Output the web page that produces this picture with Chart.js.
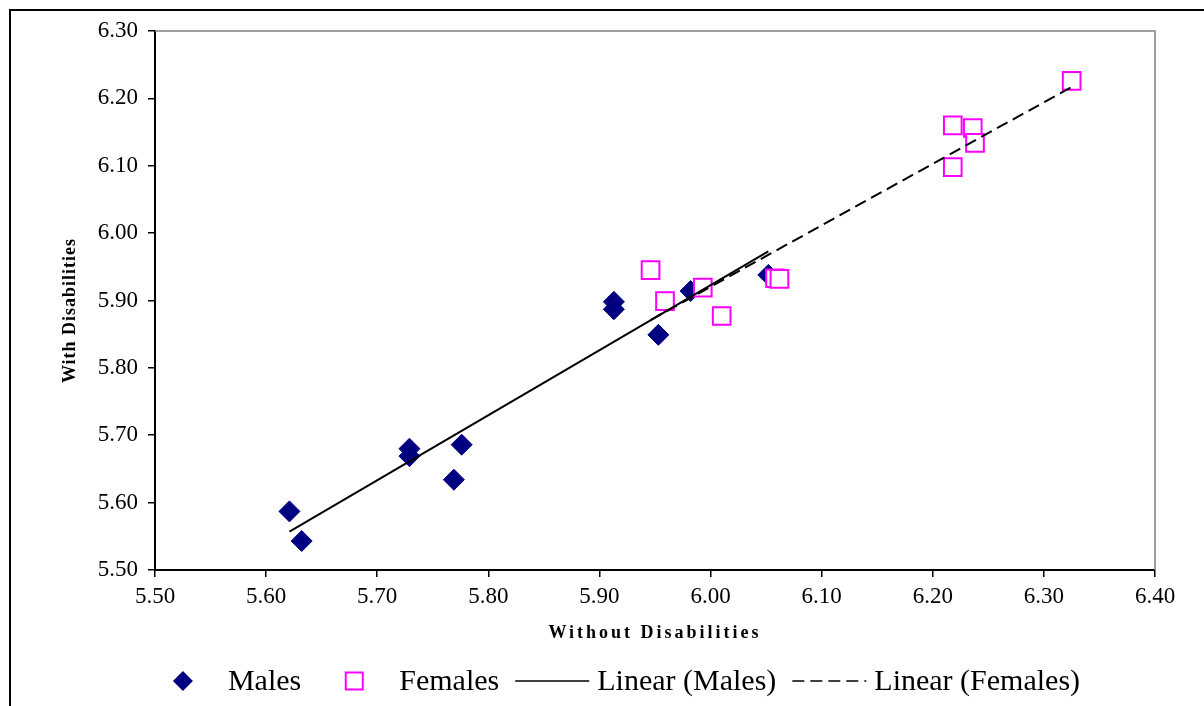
<!DOCTYPE html>
<html>
<head>
<meta charset="utf-8">
<script src="https://cdn.jsdelivr.net/npm/chart.js@4/dist/chart.umd.min.js"></script>
<style>
  html, body { margin: 0; padding: 0; background: #fff; overflow: hidden; }
  #wrap { position: relative; width: 1204px; height: 706px; overflow: hidden; }
  #chart { position: absolute; left: 0; top: 0; }
  #frame { position: absolute; left: 9px; top: 9px; width: 1300px; height: 800px;
           border-left: 2px solid #000; border-top: 2px solid #000; pointer-events: none; }
</style>
</head>
<body>
<div id="wrap">
  <canvas id="chart" width="1204" height="706"></canvas>
  <div id="frame"></div>
</div>
<script>
// values
const maleX = [5.621, 5.632, 5.729, 5.729, 5.769, 5.776, 5.913, 5.913, 5.953, 5.982, 6.052];
const maleY = [5.587, 5.543, 5.680, 5.669, 5.634, 5.686, 5.898, 5.887, 5.849, 5.914, 5.938];
const femaleX = [5.946, 5.959, 5.993, 6.010, 6.058, 6.062, 6.218, 6.236, 6.238, 6.218, 6.325];
const femaleY = [5.945, 5.899, 5.919, 5.877, 5.933, 5.932, 6.160, 6.156, 6.134, 6.098, 6.226];

// trend line end points
const maleTrendX = [5.621, 6.052];
const maleTrendY = [5.557, 5.973];
const femaleTrendX = [5.946, 6.325];
const femaleTrendY = [5.871, 6.217];

const xTickLabels = ["5.50", "5.60", "5.70", "5.80", "5.90", "6.00", "6.10", "6.20", "6.30", "6.40"];
const yTickLabels = ["5.50", "5.60", "5.70", "5.80", "5.90", "6.00", "6.10", "6.20", "6.30"];

const seriesNames = ["Males", "Females", "Linear (Males)", "Linear (Females)"];
const xTitle = "Without Disabilities";
const yTitle = "With Disabilities";

const SERIF = "'Liberation Serif', 'Times New Roman', serif";
const NAVY = "#000080";
const MAGENTA = "#FF00FF";
const DASH = [12, 6];

const pts = (xs, ys) => xs.map((x, i) => ({ x: x, y: ys[i] }));

// gray top/right plot border, axis titles and the legend
const decor = {
  id: "decor",
  beforeDatasetsDraw(chart) {
    const { ctx, chartArea: a } = chart;
    ctx.save();
    ctx.strokeStyle = "#808080";
    ctx.lineWidth = 1.5;
    ctx.beginPath();
    ctx.moveTo(a.left, a.top);
    ctx.lineTo(a.right, a.top);
    ctx.lineTo(a.right, a.bottom);
    ctx.stroke();
    ctx.restore();
  },
  afterDraw(chart) {
    const { ctx, chartArea: a } = chart;
    ctx.save();
    ctx.fillStyle = "#000";
    ctx.textBaseline = "middle";

    // x title
    ctx.font = "bold 18px " + SERIF;
    ctx.letterSpacing = "3px";
    ctx.textAlign = "center";
    ctx.fillText(xTitle, (a.left + a.right) / 2, 633);

    // y title
    ctx.letterSpacing = "1px";
    ctx.save();
    ctx.translate(70, (a.top + a.bottom) / 2 + 10);
    ctx.rotate(-Math.PI / 2);
    ctx.fillText(yTitle, 0, 0);
    ctx.restore();
    ctx.letterSpacing = "0px";

    // legend
    ctx.font = "30px " + SERIF;
    ctx.textAlign = "left";
    const slot = 74, gapText = 8, gapItem = 16, ly = 681;
    const widths = seriesNames.map(n => ctx.measureText(n).width);
    let total = 0;
    widths.forEach((w, i) => { total += slot + gapText + w + (i < widths.length - 1 ? gapItem : 0); });
    let x = 613 - total / 2;
    seriesNames.forEach((name, i) => {
      const cx = x + slot / 2;
      ctx.save();
      if (i === 0) {
        const r = 10;
        ctx.fillStyle = NAVY;
        ctx.beginPath();
        ctx.moveTo(cx - r, ly); ctx.lineTo(cx, ly - r); ctx.lineTo(cx + r, ly); ctx.lineTo(cx, ly + r);
        ctx.closePath();
        ctx.fill();
      } else if (i === 1) {
        ctx.strokeStyle = MAGENTA;
        ctx.lineWidth = 2;
        ctx.strokeRect(cx - 8.5, ly - 8.5, 17, 17);
      } else {
        ctx.strokeStyle = "#000";
        ctx.lineWidth = 1.5;
        if (i === 3) ctx.setLineDash(DASH);
        ctx.beginPath();
        ctx.moveTo(x, ly); ctx.lineTo(x + slot, ly);
        ctx.stroke();
      }
      ctx.restore();
      ctx.fillText(name, x + slot + gapText, ly + 1);
      x += slot + gapText + widths[i] + gapItem;
    });
    ctx.restore();
  }
};

const tickFont = { family: SERIF, size: 23 };

new Chart(document.getElementById("chart").getContext("2d"), {
  type: "scatter",
  data: {
    datasets: [
      {
        label: seriesNames[0],
        data: pts(maleX, maleY),
        pointStyle: "rectRot",
        pointRadius: 10.5,
        backgroundColor: NAVY,
        borderColor: NAVY,
        borderWidth: 1,
        order: 4
      },
      {
        label: seriesNames[1],
        data: pts(femaleX, femaleY),
        pointStyle: "rect",
        pointRadius: 12.5,
        backgroundColor: "#fff",
        borderColor: MAGENTA,
        borderWidth: 2,
        order: 3
      },
      {
        type: "line",
        label: seriesNames[2],
        data: pts(maleTrendX, maleTrendY),
        borderColor: "#000",
        borderWidth: 2,
        pointRadius: 0,
        fill: false,
        order: 1
      },
      {
        type: "line",
        label: seriesNames[3],
        data: pts(femaleTrendX, femaleTrendY),
        borderColor: "#000",
        borderWidth: 2,
        borderDash: DASH,
        pointRadius: 0,
        fill: false,
        order: 2
      }
    ]
  },
  options: {
    responsive: false,
    animation: false,
    devicePixelRatio: 1,
    layout: { padding: { left: 0, top: 31, right: 49, bottom: 0 } },
    plugins: {
      legend: { display: false },
      tooltip: { enabled: false }
    },
    scales: {
      x: {
        type: "linear",
        min: 5.5,
        max: 6.4,
        afterBuildTicks: s => { s.ticks = xTickLabels.map(t => ({ value: parseFloat(t) })); },
        afterFit: s => { s.height = 136; },
        grid: { drawOnChartArea: false, drawTicks: true, tickLength: 7, color: "#000", lineWidth: 1.5 },
        border: { color: "#000", width: 2 },
        ticks: {
          font: tickFont, color: "#000", padding: 6, maxRotation: 0, autoSkip: false,
          callback: v => v.toFixed(2)
        }
      },
      y: {
        type: "linear",
        min: 5.5,
        max: 6.3,
        afterBuildTicks: s => { s.ticks = yTickLabels.map(t => ({ value: parseFloat(t) })); },
        afterFit: s => { s.width = 155; },
        grid: { drawOnChartArea: false, drawTicks: true, tickLength: 7, color: "#000", lineWidth: 1.5 },
        border: { color: "#000", width: 2 },
        ticks: {
          font: tickFont, color: "#000", padding: 10, autoSkip: false,
          callback: v => v.toFixed(2)
        }
      }
    }
  },
  plugins: [decor]
});
</script>
</body>
</html>
